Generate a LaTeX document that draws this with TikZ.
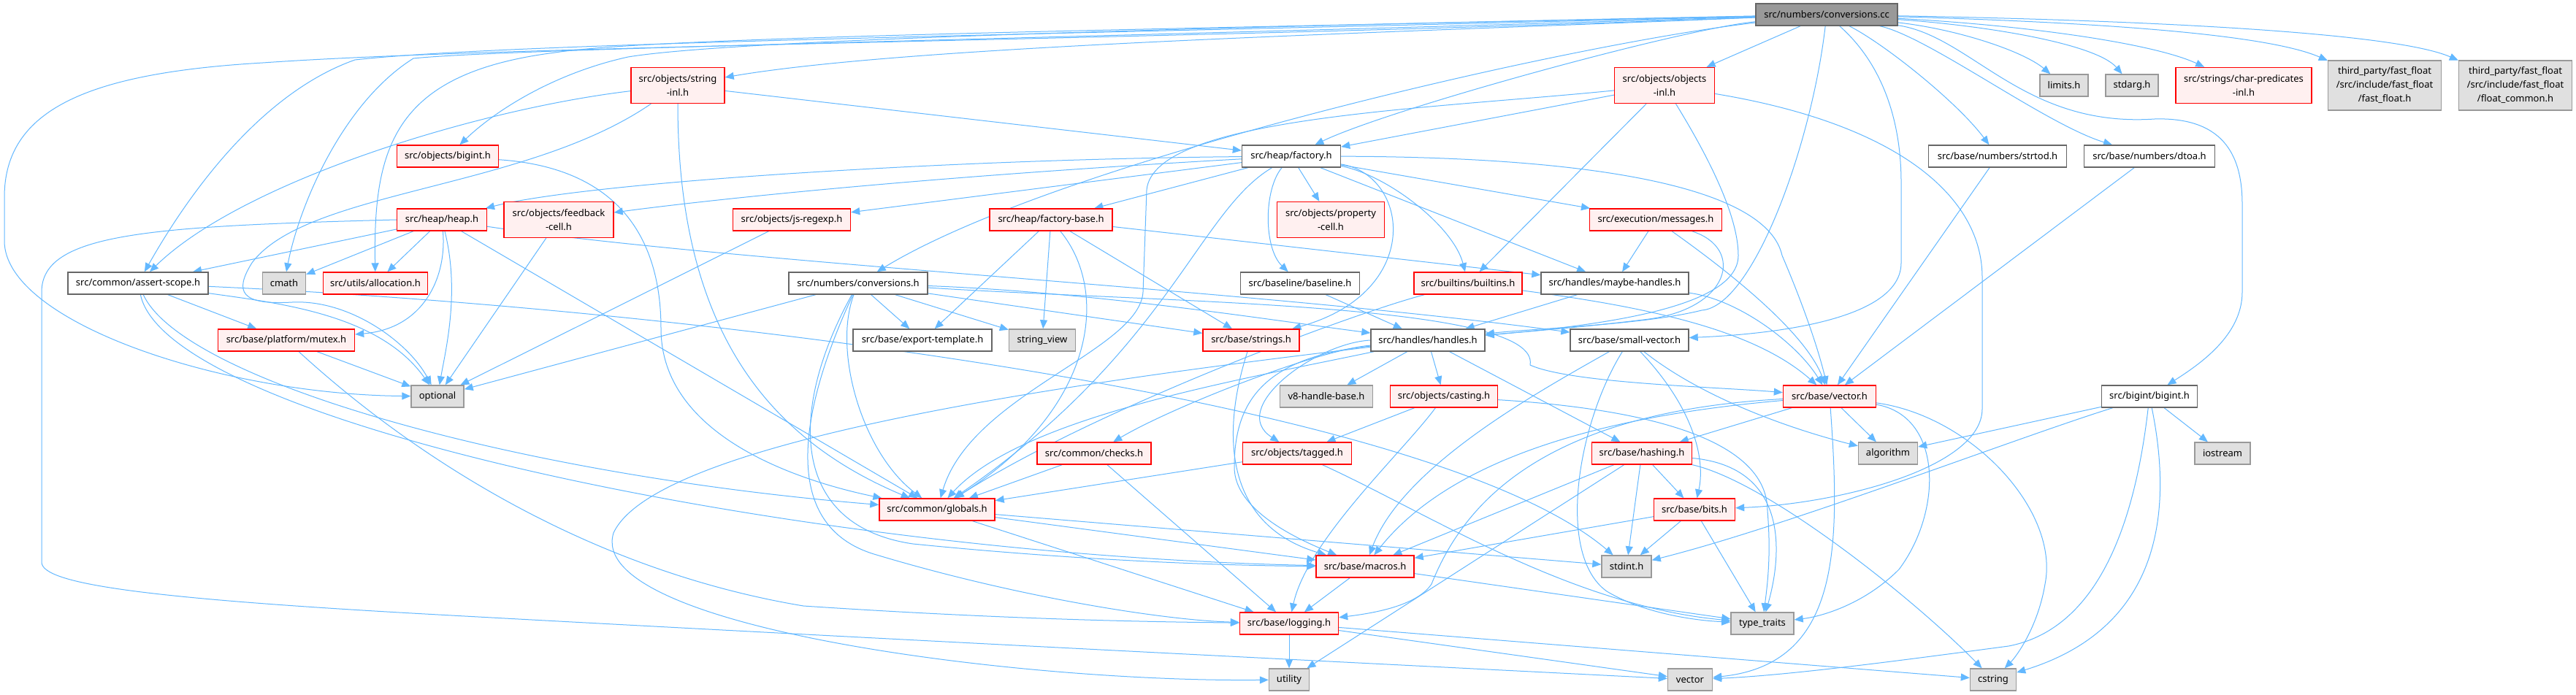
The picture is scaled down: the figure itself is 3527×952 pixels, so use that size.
\documentclass[tikz,border=0pt]{standalone}
\usepackage{fontspec}
\usepackage{xcolor}
\usepackage{tikz}
\usetikzlibrary{arrows.meta, backgrounds}
\newfontfamily\doxfont{Noto Sans}
\definecolor{edgeblue}{HTML}{63B8FF}
\definecolor{redfill}{HTML}{FFF0F0}
\definecolor{sysfill}{HTML}{E0E0E0}
\definecolor{sysline}{HTML}{999999}
\definecolor{plainline}{HTML}{666666}
\definecolor{rootfill}{HTML}{999999}
\tikzset{
    filebox/.style={rectangle, inner sep=0pt, minimum height=30pt, line width=1.4pt, align=center, text=black, font=\doxfont\fontsize{13pt}{19pt}\selectfont},
    plainfile/.style={filebox, draw=plainline, fill=white},
    redfile/.style={filebox, draw=red, fill=redfill},
    sysfile/.style={filebox, draw=sysline, fill=sysfill},
    rootfile/.style={filebox, draw=plainline, fill=rootfill},
    dep/.style={draw=edgeblue, line width=1pt, -{Triangle[length=12pt,width=10pt]}}
}

\begin{document}
\begin{tikzpicture}[x=1pt, y=-1pt]
    \useasboundingbox (0,0) rectangle (3527,952);

    % Radice e primo livello
    \node[rootfile, minimum width=194pt] (cc) at (2501,20) {src/numbers/conversions.cc};
    \node[redfile, minimum width=128pt, minimum height=49pt] (stringinl) at (928,117) {src/objects/string\\-inl.h};
    \node[redfile, minimum width=137pt, minimum height=49pt] (objinl) at (2279,117) {src/objects/objects\\-inl.h};
    \node[sysfile, minimum width=66pt] (limits) at (2826,117) {limits.h};
    \node[sysfile, minimum width=72pt] (stdarg) at (2919,117) {stdarg.h};
    \node[redfile, minimum width=186pt, minimum height=49pt] (charpred) at (3072,117) {src/strings/char-predicates\\-inl.h};
    \node[sysfile, minimum width=155pt, minimum height=68pt] (fastfloat) at (3265,117) {third\_party/fast\_float\\/src/include/fast\_float\\/fast\_float.h};
    \node[sysfile, minimum width=155pt, minimum height=68pt] (floatcommon) at (3444,117) {third\_party/fast\_float\\/src/include/fast\_float\\/float\_common.h};

    % Secondo e terzo livello
    \node[redfile, minimum width=139pt] (objbigint) at (613,214) {src/objects/bigint.h};
    \node[plainfile, minimum width=135pt] (factory) at (1768,214) {src/heap/factory.h};
    \node[plainfile, minimum width=189pt] (strtod) at (2735,214) {src/base/numbers/strtod.h};
    \node[plainfile, minimum width=179pt] (dtoa) at (2943,214) {src/base/numbers/dtoa.h};
    \node[redfile, minimum width=123pt] (heap) at (605,301) {src/heap/heap.h};
    \node[redfile, minimum width=150pt, minimum height=49pt] (feedback) at (765,301) {src/objects/feedback\\-cell.h};
    \node[redfile, minimum width=161pt] (jsregexp) at (1084,301) {src/objects/js-regexp.h};
    \node[redfile, minimum width=168pt] (factorybase) at (1439,301) {src/heap/factory-base.h};
    \node[redfile, minimum width=147pt, minimum height=49pt] (propcell) at (1822,301) {src/objects/property\\-cell.h};
    \node[redfile, minimum width=181pt] (messages) at (2267,301) {src/execution/messages.h};

    % Livelli centrali
    \node[plainfile, minimum width=192pt] (assert) at (189,388) {src/common/assert-scope.h};
    \node[sysfile, minimum width=59pt] (cmath) at (389,388) {cmath};
    \node[redfile, minimum width=143pt] (alloc) at (514,388) {src/utils/allocation.h};
    \node[plainfile, minimum width=190pt] (nconv) at (1175,388) {src/numbers/conversions.h};
    \node[plainfile, minimum width=163pt] (baseline) at (1780,388) {src/baseline/baseline.h};
    \node[redfile, minimum width=148pt] (builtins) at (2010,388) {src/builtins/builtins.h};
    \node[plainfile, minimum width=202pt] (maybeh) at (2211,388) {src/handles/maybe-handles.h};
    \node[redfile, minimum width=187pt] (mutex) at (392,466) {src/base/platform/mutex.h};
    \node[plainfile, minimum width=190pt] (exporttpl) at (1263,466) {src/base/export-template.h};
    \node[sysfile, minimum width=91pt] (stringview) at (1427,466) {string\_view};
    \node[redfile, minimum width=132pt] (strings) at (1713,466) {src/base/strings.h};
    \node[plainfile, minimum width=156pt] (handles) at (1955,466) {src/handles/handles.h};
    \node[plainfile, minimum width=162pt] (smallvec) at (2231,466) {src/base/small-vector.h};
    \node[sysfile, minimum width=72pt] (optional) at (599,543) {optional};
    \node[sysfile, minimum width=127pt] (v8hb) at (1816,543) {v8-handle-base.h};
    \node[redfile, minimum width=147pt] (casting) at (1977,543) {src/objects/casting.h};
    \node[redfile, minimum width=127pt] (vectorh) at (2505,543) {src/base/vector.h};
    \node[plainfile, minimum width=131pt] (bbigint) at (2943,543) {src/bigint/bigint.h};

    % Livelli bassi
    \node[redfile, minimum width=156pt] (checks) at (1498,621) {src/common/checks.h};
    \node[redfile, minimum width=149pt] (tagged) at (1776,621) {src/objects/tagged.h};
    \node[redfile, minimum width=137pt] (hashing) at (2248,621) {src/base/hashing.h};
    \node[sysfile, minimum width=81pt] (algorithm) at (2585,621) {algorithm};
    \node[sysfile, minimum width=76pt] (iostream) at (3043,621) {iostream};
    \node[redfile, minimum width=158pt] (globals) at (1283,698) {src/common/globals.h};
    \node[redfile, minimum width=111pt] (bits) at (2320,698) {src/base/bits.h};
    \node[redfile, minimum width=134pt] (macros) at (1869,776) {src/base/macros.h};
    \node[sysfile, minimum width=68pt] (stdint) at (2227,776) {stdint.h};
    \node[redfile, minimum width=135pt] (logging) at (1765,854) {src/base/logging.h};
    \node[sysfile, minimum width=86pt] (typetraits) at (2413,854) {type\_traits};
    \node[sysfile, minimum width=55pt] (utility) at (1765,931) {utility};
    \node[sysfile, minimum width=61pt] (vector) at (2314,931) {vector};
    \node[sysfile, minimum width=63pt] (cstring) at (2729,931) {cstring};

    \begin{scope}[on background layer]
        \fill[white] (0,0) rectangle (3527,952);

        % Archi diritti
        \foreach \src/\dst in {cc/objinl, objinl/factory, objinl/builtins, stringinl/factory,
            factory/jsregexp, factory/factorybase, factory/propcell, factory/messages, factory/maybeh,
            heap/assert, heap/cmath, heap/alloc, heap/globals, feedback/optional, jsregexp/optional,
            factorybase/exporttpl, factorybase/stringview, factorybase/strings, factorybase/maybeh,
            messages/maybeh, assert/mutex, mutex/optional, nconv/exporttpl, nconv/stringview,
            nconv/strings, nconv/optional, baseline/handles, maybeh/handles, handles/v8hb,
            handles/casting, handles/hashing, casting/tagged, strtod/vectorh, dtoa/vectorh,
            vectorh/algorithm, vectorh/hashing, bbigint/algorithm, bbigint/iostream,
            checks/globals, checks/logging, tagged/globals, hashing/macros, hashing/stdint,
            hashing/bits, hashing/utility, globals/macros, globals/logging, globals/stdint,
            bits/macros, bits/stdint, bits/typetraits, macros/logging, macros/typetraits,
            logging/utility, logging/vector, logging/cstring}
            \draw[dep] (\src) -- (\dst);

        % Archi dalla radice
        \draw[dep] (cc) .. controls (1900,45) and (1250,62) .. (stringinl);
        \draw[dep] (cc) .. controls (1600,38) and (1000,55) .. (860,78) .. controls (760,100) and (680,150) .. (objbigint);
        \draw[dep] (cc) .. controls (2300,40) and (1900,150) .. (factory);
        \draw[dep] (cc) .. controls (1500,46) and (700,58) .. (486,82) .. controls (350,130) and (250,280) .. (assert);
        \draw[dep] (cc) .. controls (1500,52) and (700,66) .. (566,80) .. controls (470,140) and (410,280) .. (cmath);
        \draw[dep] (cc) .. controls (1600,40) and (900,50) .. (760,72) .. controls (540,100) and (511,200) .. (alloc);
        \draw[dep] (cc) .. controls (1600,55) and (700,62) .. (360,86) .. controls (120,100) and (6,150) .. (6,270) -- (6,330) .. controls (6,440) and (300,540) .. (optional);
        \draw[dep] (cc) .. controls (2150,60) and (1450,220) .. (nconv);
        \draw[dep] (cc) .. controls (2680,40) and (2770,70) .. (limits);
        \draw[dep] (cc) .. controls (2720,35) and (2870,60) .. (stdarg);
        \draw[dep] (cc) .. controls (2780,35) and (2950,60) .. (charpred);
        \draw[dep] (cc) .. controls (2850,30) and (3100,45) .. (fastfloat);
        \draw[dep] (cc) .. controls (2950,28) and (3280,45) .. (floatcommon);
        \draw[dep] (cc) .. controls (2580,60) and (2680,140) .. (strtod);
        \draw[dep] (cc) .. controls (2640,50) and (2800,170) .. (dtoa);
        \draw[dep] (cc) .. controls (2700,50) and (2770,175) .. (2950,163) .. controls (3050,160) and (3070,220) .. (3070,280) -- (3070,400) .. controls (3070,460) and (3010,500) .. (bbigint);
        \draw[dep] (cc) .. controls (2580,90) and (2603,170) .. (2603,250) -- (2603,360) .. controls (2603,440) and (2420,458) .. (smallvec);
        \draw[dep] (cc) .. controls (2480,200) and (2400,420) .. (2330,425) .. controls (2250,445) and (2100,450) .. (handles);

        % Archi dagli header degli oggetti
        \draw[dep] (objinl) .. controls (1950,150) and (1580,160) .. (1570,260) -- (1565,400) .. controls (1560,480) and (1330,540) .. (globals);
        \draw[dep] (objinl) .. controls (2330,200) and (2380,290) .. (2380,350) .. controls (2380,420) and (2200,445) .. (handles);
        \draw[dep] (objinl) .. controls (2600,170) and (2714,270) .. (2714,380) -- (2714,560) .. controls (2714,640) and (2520,690) .. (bits);
        \draw[dep] (stringinl) .. controls (650,150) and (330,250) .. (assert);
        \draw[dep] (stringinl) .. controls (720,260) and (420,260) .. (345,360) .. controls (320,400) and (330,418) .. (400,414) .. controls (480,410) and (560,470) .. (optional);
        \draw[dep] (stringinl) .. controls (928,450) and (1050,600) .. (globals);
        \draw[dep] (objbigint) .. controls (850,230) and (905,330) .. (905,450) .. controls (905,600) and (1100,660) .. (globals);

        % Archi da factory.h e heap.h
        \draw[dep] (factory) .. controls (1300,218) and (800,250) .. (heap);
        \draw[dep] (factory) .. controls (1300,240) and (1000,270) .. (feedback);
        \draw[dep] (factory) .. controls (1730,260) and (1730,340) .. (baseline);
        \draw[dep] (factory) .. controls (1900,240) and (1990,310) .. (builtins);
        \draw[dep] (factory) .. controls (1930,240) and (1950,400) .. (strings);
        \draw[dep] (factory) .. controls (2200,215) and (2420,260) .. (2440,350) .. controls (2470,420) and (2490,480) .. (vectorh);
        \draw[dep] (factory) .. controls (1640,290) and (1600,480) .. (globals);
        \draw[dep] (heap) .. controls (612,380) and (580,450) .. (mutex);
        \draw[dep] (heap) .. controls (630,400) and (610,480) .. (optional);
        \draw[dep] (heap.west) .. controls (200,310) and (57,320) .. (57,400) -- (57,770) .. controls (57,800) and (200,820) .. (600,842) .. controls (1200,875) and (1900,910) .. (vector);
        \draw[dep] (heap) .. controls (1000,360) and (1700,395) .. (smallvec);
        \draw[dep] (factorybase) .. controls (1520,400) and (1500,560) .. (globals);
        \draw[dep] (messages) .. controls (2350,360) and (2470,450) .. (vectorh);
        \draw[dep] (messages) .. controls (2390,340) and (2370,425) .. (2250,438) .. controls (2150,450) and (2080,455) .. (handles);

        % Archi dal livello centrale
        \draw[dep] (assert) .. controls (380,415) and (520,430) .. (optional);
        \draw[dep] (assert) .. controls (250,520) and (700,650) .. (globals);
        \draw[dep] (assert) .. controls (230,580) and (1100,760) .. (macros);
        \draw[dep] (assert) .. controls (900,420) and (1950,540) .. (stdint);
        \draw[dep] (mutex) .. controls (560,620) and (800,780) .. (1100,830) .. controls (1400,850) and (1600,852) .. (logging);
        \draw[dep] (nconv) .. controls (1140,480) and (1180,620) .. (globals);
        \draw[dep] (nconv) .. controls (1080,560) and (1080,720) .. (1250,745) .. controls (1500,770) and (1700,775) .. (macros);
        \draw[dep] (nconv) .. controls (1100,550) and (1060,720) .. (1200,760) .. controls (1400,820) and (1600,850) .. (logging);
        \draw[dep] (nconv) .. controls (1600,415) and (2110,415) .. (2095,500) .. controls (2150,525) and (2350,530) .. (vectorh);
        \draw[dep] (nconv) .. controls (1500,400) and (1750,440) .. (handles);
        \draw[dep] (builtins) .. controls (1850,430) and (1500,560) .. (globals);
        \draw[dep] (builtins) .. controls (2250,420) and (2400,450) .. (vectorh);
        \draw[dep] (maybeh) .. controls (2380,410) and (2460,470) .. (vectorh);
        \draw[dep] (strings) .. controls (1670,600) and (1680,720) .. (macros);

        % Archi da handles.h e small-vector.h
        \draw[dep] (handles) .. controls (1800,480) and (1600,560) .. (checks);
        \draw[dep] (handles.west) .. controls (1800,470) and (1680,560) .. (tagged);
        \draw[dep] (handles) .. controls (1700,520) and (1400,570) .. (globals);
        \draw[dep] (handles) .. controls (1720,490) and (1690,560) .. (1690,640) .. controls (1690,700) and (1780,740) .. (macros);
        \draw[dep] (handles) .. controls (1500,520) and (900,600) .. (840,730) .. controls (800,860) and (1400,935) .. (utility);
        \draw[dep] (smallvec) .. controls (2350,560) and (2500,600) .. (algorithm);
        \draw[dep] (smallvec) .. controls (2320,560) and (2335,630) .. (bits);
        \draw[dep] (smallvec) .. controls (2100,540) and (1920,640) .. (macros);
        \draw[dep] (smallvec) .. controls (2160,580) and (2130,760) .. (2200,810) .. controls (2250,840) and (2320,850) .. (typetraits);

        % Archi verso le librerie di sistema
        \draw[dep] (casting) .. controls (1920,620) and (1790,740) .. (logging);
        \draw[dep] (casting) .. controls (2250,560) and (2420,600) .. (2420,700) .. controls (2425,760) and (2420,800) .. (typetraits);
        \draw[dep] (vectorh) .. controls (2660,570) and (2660,700) .. (2600,780) .. controls (2550,830) and (2490,845) .. (typetraits);
        \draw[dep] (vectorh) .. controls (2700,570) and (2820,700) .. (2800,800) .. controls (2790,860) and (2760,900) .. (cstring);
        \draw[dep] (vectorh) .. controls (2520,750) and (2520,910) .. (vector);
        \draw[dep] (vectorh) .. controls (2250,565) and (2000,610) .. (macros);
        \draw[dep] (vectorh) .. controls (2100,565) and (2000,700) .. (1960,800) .. controls (1940,830) and (1880,840) .. (logging);
        \draw[dep] (bbigint) .. controls (2760,600) and (2450,720) .. (stdint);
        \draw[dep] (bbigint) .. controls (2975,700) and (2960,860) .. (cstring);
        \draw[dep] (bbigint) .. controls (2925,700) and (2880,860) .. (2750,885) .. controls (2600,905) and (2450,925) .. (vector);
        \draw[dep] (hashing) .. controls (2450,640) and (2440,760) .. (typetraits);
        \draw[dep] (hashing) .. controls (2420,660) and (2620,820) .. (cstring);
        \draw[dep] (tagged) .. controls (1950,700) and (2150,830) .. (typetraits);
    \end{scope}
\end{tikzpicture}
\end{document}
